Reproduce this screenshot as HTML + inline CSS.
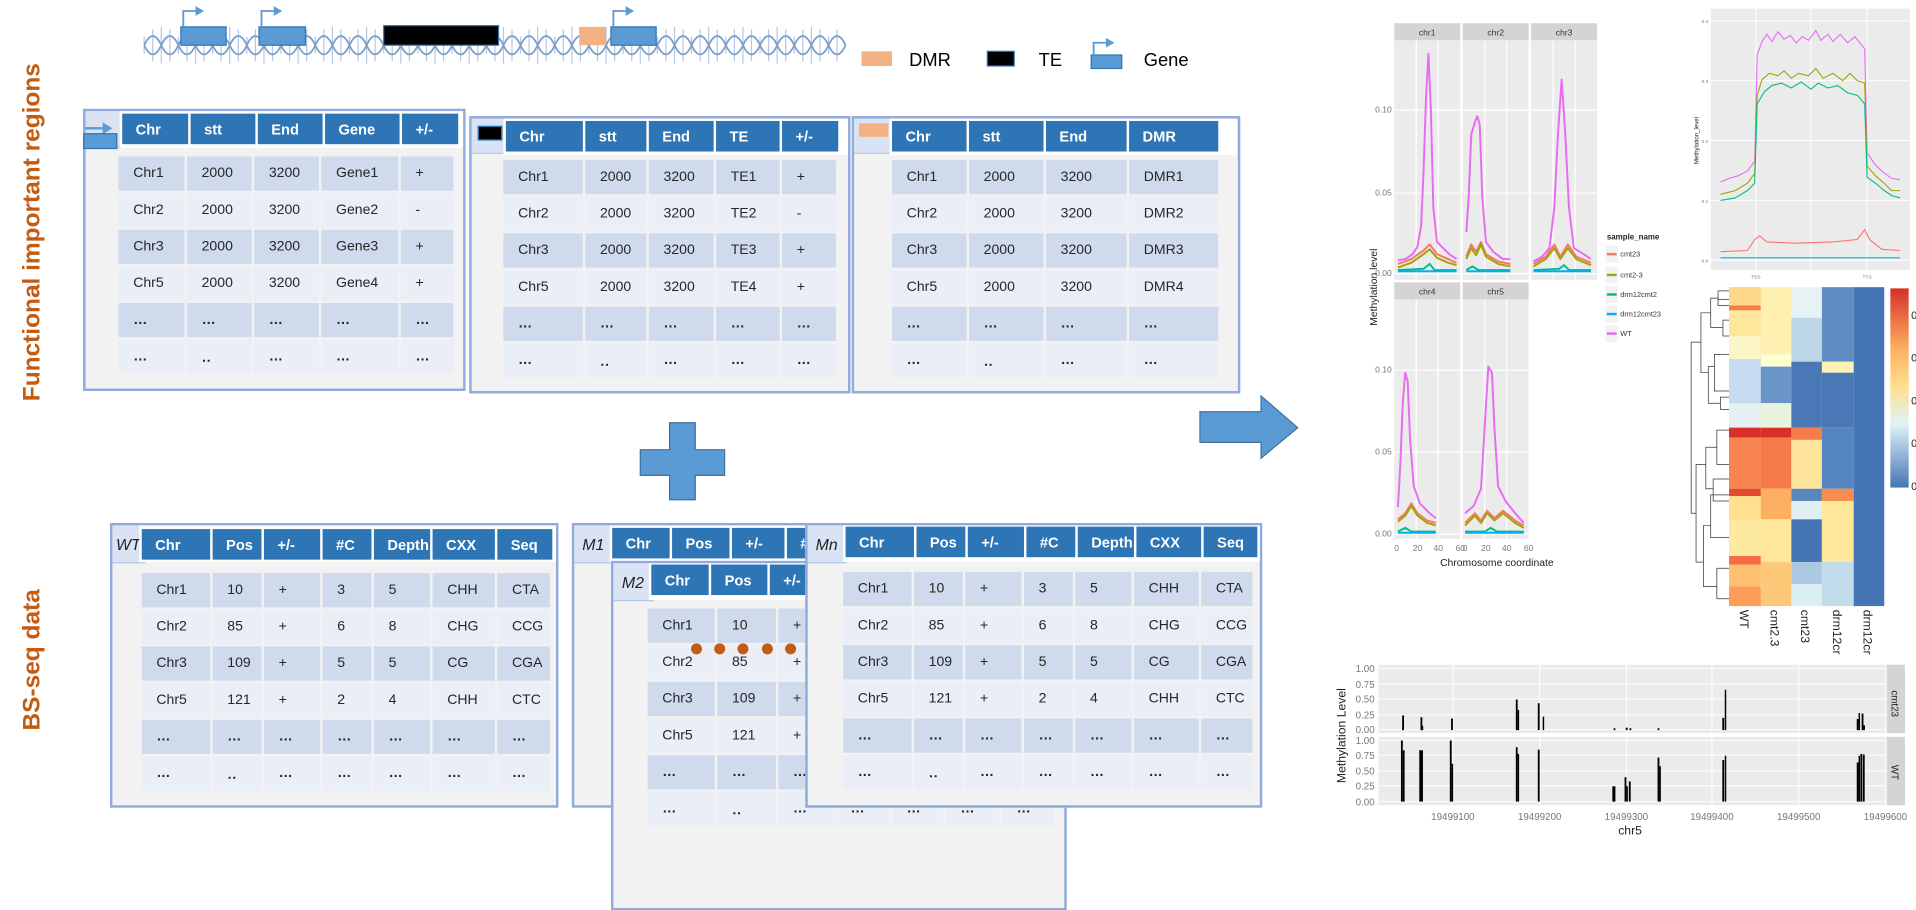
<!DOCTYPE html>
<html><head><meta charset="utf-8"><style>
html,body{margin:0;padding:0;background:#fff;width:1916px;height:843px;overflow:hidden}
.s{position:absolute;left:0;top:0;width:1568px;height:690px;transform:scale(1.22194);transform-origin:0 0;font-family:"Liberation Sans",sans-serif}
.a{position:absolute}
.box{position:absolute;border:2px solid #8faadc;background:#f2f2f2;box-sizing:border-box}
.lab{position:absolute;left:0;top:0;background:#dae3f3;border-right:1px solid #b4c7e7;border-bottom:1px solid #b4c7e7;font-style:italic;font-size:13px;color:#222;display:flex;align-items:center;justify-content:center}
table{position:absolute;border-collapse:separate;border-spacing:2px}
td{padding:0 0 0 12px;box-sizing:border-box;font-size:11.5px;color:#262626;white-space:nowrap;overflow:hidden}
table.h td{background:#2e75b6;color:#fff;font-weight:bold;font-size:12px;height:25px;padding-left:11px}
table.d td{height:28px}
table.d tr:nth-child(odd) td{background:#cfdaed}
table.d tr:nth-child(even) td{background:#e9eef7}
.hb{background:#fff}
</style></head><body><div class="s">

<div class="a" style="left:27px;top:190px;transform:translate(-50%,-50%) rotate(-90deg);color:#c55a11;font-weight:bold;font-size:20px;white-space:nowrap">Functional important regions</div>
<div class="a" style="left:27px;top:540px;transform:translate(-50%,-50%) rotate(-90deg);color:#c55a11;font-weight:bold;font-size:20px;white-space:nowrap">BS-seq data</div>

<svg class="a" style="left:0;top:0" width="1568" height="690">
<g stroke="#b4c7e7" stroke-width="1">
<path d="M118,30V44M125,24V50M132,22V52M139,24V50M146,30V44M153,24V50M160,22V52M167,24V50M174,30V44M181,24V50M188,22V52M195,24V50M202,30V44M209,24V50M216,22V52M223,24V50M230,30V44M237,24V50M244,22V52M251,24V50M258,30V44M265,24V50M272,22V52M279,24V50M286,30V44M293,24V50M300,22V52M307,24V50M314,30V44M321,24V50M328,22V52M335,24V50M342,30V44M349,24V50M356,22V52M363,24V50M370,30V44M377,24V50M384,22V52M391,24V50M398,30V44M405,24V50M412,22V52M419,24V50M426,30V44M433,24V50M440,22V52M447,24V50M454,30V44M461,24V50M468,22V52M475,24V50M482,30V44M489,24V50M496,22V52M503,24V50M510,30V44M517,24V50M524,22V52M531,24V50M538,30V44M545,24V50M552,22V52M559,24V50M566,30V44M573,24V50M580,22V52M587,24V50M594,30V44M601,24V50M608,22V52M615,24V50M622,30V44M629,24V50M636,22V52M643,24V50M650,30V44M657,24V50M664,22V52M671,24V50M678,30V44M685,24V50"/>
</g>
<g fill="none" stroke="#7f9fc8" stroke-width="1.5">
<path d="M118,37 Q125,22 132,37 T146,37 T160,37 T174,37 T188,37 T202,37 T216,37 T230,37 T244,37 T258,37 T272,37 T286,37 T300,37 T314,37 T328,37 T342,37 T356,37 T370,37 T384,37 T398,37 T412,37 T426,37 T440,37 T454,37 T468,37 T482,37 T496,37 T510,37 T524,37 T538,37 T552,37 T566,37 T580,37 T594,37 T608,37 T622,37 T636,37 T650,37 T664,37 T678,37 T692,37"/>
<path d="M118,37 Q125,52 132,37 T146,37 T160,37 T174,37 T188,37 T202,37 T216,37 T230,37 T244,37 T258,37 T272,37 T286,37 T300,37 T314,37 T328,37 T342,37 T356,37 T370,37 T384,37 T398,37 T412,37 T426,37 T440,37 T454,37 T468,37 T482,37 T496,37 T510,37 T524,37 T538,37 T552,37 T566,37 T580,37 T594,37 T608,37 T622,37 T636,37 T650,37 T664,37 T678,37 T692,37"/>
</g>
<g fill="#5b9bd5" stroke="#2e75b6" stroke-width="1">
<rect x="148" y="22" width="37" height="15"/><rect x="212" y="22" width="38" height="15"/><rect x="500" y="22" width="37" height="15"/>
</g>
<rect x="314" y="21" width="94" height="16" fill="#000" stroke="#2e75b6"/>
<rect x="474" y="22" width="22" height="15" fill="#f4b183"/>
<g stroke="#5b9bd5" stroke-width="1.5" fill="none"><path d="M150,22V9H160M214,22V9H224M502,22V9H512"/></g>
<g fill="#5b9bd5"><path d="M160,5L167,9L160,13Z"/><path d="M224,5L231,9L224,13Z"/><path d="M512,5L519,9L512,13Z"/></g>
<rect x="705" y="42" width="25" height="12" fill="#f4b183"/>
<text x="744" y="54" font-size="15" font-family="Liberation Sans">DMR</text>
<rect x="808" y="42" width="22" height="12" fill="#000" stroke="#2e75b6"/>
<text x="850" y="54" font-size="15" font-family="Liberation Sans">TE</text>
<rect x="893" y="45" width="25" height="11" fill="#5b9bd5" stroke="#2e75b6"/>
<path d="M895,45V35H905" stroke="#5b9bd5" stroke-width="1.5" fill="none"/><path d="M905,31L912,35L905,39Z" fill="#5b9bd5"/>
<text x="936" y="54" font-size="15" font-family="Liberation Sans">Gene</text>
<path d="M548,346H569V368H593V389H569V409H548V389H524V368H548Z" fill="#5b9bd5" stroke="#41719c" stroke-width="1"/>
<path d="M982,337H1032V324L1062,350L1032,375V362H982Z" fill="#5b9bd5" stroke="#41719c" stroke-width="1"/>
</svg>

<div class="box" style="left:68px;top:89px;width:313px;height:231px">
 <div class="lab" style="width:29px;height:29px"></div>
</div>
<div class="a" style="left:70px;top:104px;width:14px;height:2px;background:#5b9bd5"></div>
<div class="a" style="left:84px;top:100px;width:0;height:0;border-left:8px solid #5b9bd5;border-top:5px solid transparent;border-bottom:5px solid transparent"></div>
<div class="a" style="left:68px;top:109px;width:26px;height:11px;background:#5b9bd5;border:1px solid #2e75b6"></div>
<div class="a hb" style="left:98px;top:91px;width:281px;height:30px"></div>
<table class="h" style="left:98px;top:91px"><tr><td style="width:54px">Chr</td><td style="width:53px">stt</td><td style="width:53px">End</td><td style="width:61px">Gene</td><td style="width:46px">+/-</td></tr></table>
<table class="d" style="left:95px;top:126px">
<tr><td style="width:54px">Chr1</td><td style="width:53px">2000</td><td style="width:53px">3200</td><td style="width:63px">Gene1</td><td style="width:43px">+</td></tr>
<tr><td>Chr2</td><td>2000</td><td>3200</td><td>Gene2</td><td>-</td></tr>
<tr><td>Chr3</td><td>2000</td><td>3200</td><td>Gene3</td><td>+</td></tr>
<tr><td>Chr5</td><td>2000</td><td>3200</td><td>Gene4</td><td>+</td></tr>
<tr><td><b>…</b></td><td><b>…</b></td><td><b>…</b></td><td><b>…</b></td><td><b>…</b></td></tr>
<tr><td><b>…</b></td><td><b>‥</b></td><td><b>…</b></td><td><b>…</b></td><td><b>…</b></td></tr>
</table>

<div class="box" style="left:384px;top:95px;width:312px;height:227px">
 <div class="lab" style="width:28px;height:28px"></div>
</div>
<div class="a" style="left:391px;top:103px;width:18px;height:10px;background:#000;border:1px solid #2e75b6"></div>
<div class="a hb" style="left:412px;top:97px;width:282px;height:30px"></div>
<table class="h" style="left:412px;top:97px"><tr><td style="width:63px">Chr</td><td style="width:50px">stt</td><td style="width:53px">End</td><td style="width:52px">TE</td><td style="width:46px">+/-</td></tr></table>
<table class="d" style="left:410px;top:129px">
<tr><td style="width:65px">Chr1</td><td style="width:50px">2000</td><td style="width:53px">3200</td><td style="width:52px">TE1</td><td style="width:44px">+</td></tr>
<tr><td>Chr2</td><td>2000</td><td>3200</td><td>TE2</td><td>-</td></tr>
<tr><td>Chr3</td><td>2000</td><td>3200</td><td>TE3</td><td>+</td></tr>
<tr><td>Chr5</td><td>2000</td><td>3200</td><td>TE4</td><td>+</td></tr>
<tr><td><b>…</b></td><td><b>…</b></td><td><b>…</b></td><td><b>…</b></td><td><b>…</b></td></tr>
<tr><td><b>…</b></td><td><b>‥</b></td><td><b>…</b></td><td><b>…</b></td><td><b>…</b></td></tr>
</table>

<div class="box" style="left:697px;top:95px;width:318px;height:227px">
 <div class="lab" style="width:30px;height:28px"></div>
</div>
<div class="a" style="left:703px;top:101px;width:24px;height:11px;background:#f4b183"></div>
<div class="a hb" style="left:728px;top:97px;width:284px;height:30px"></div>
<table class="h" style="left:728px;top:97px"><tr><td style="width:61px">Chr</td><td style="width:61px">stt</td><td style="width:66px">End</td><td style="width:73px">DMR</td></tr></table>
<table class="d" style="left:728px;top:129px">
<tr><td style="width:61px">Chr1</td><td style="width:61px">2000</td><td style="width:66px">3200</td><td style="width:73px">DMR1</td></tr>
<tr><td>Chr2</td><td>2000</td><td>3200</td><td>DMR2</td></tr>
<tr><td>Chr3</td><td>2000</td><td>3200</td><td>DMR3</td></tr>
<tr><td>Chr5</td><td>2000</td><td>3200</td><td>DMR4</td></tr>
<tr><td><b>…</b></td><td><b>…</b></td><td><b>…</b></td><td><b>…</b></td></tr>
<tr><td><b>…</b></td><td><b>‥</b></td><td><b>…</b></td><td><b>…</b></td></tr>
</table>

<div class="box" style="left:90px;top:428px;width:367px;height:233px">
 <div class="lab" style="width:26px;height:30px">WT</div>
</div>
<div class="a hb" style="left:114px;top:430px;width:341px;height:30px"></div>
<table class="h" style="left:114px;top:431px"><tr><td style="width:56px">Chr</td><td style="width:40px">Pos</td><td style="width:46px">+/-</td><td style="width:40px">#C</td><td style="width:46px">Depth</td><td style="width:51px">CXX</td><td style="width:45px">Seq</td></tr></table>
<table class="d" style="left:114px;top:467px">
<tr><td style="width:56px">Chr1</td><td style="width:40px">10</td><td style="width:46px">+</td><td style="width:40px">3</td><td style="width:46px">5</td><td style="width:51px">CHH</td><td style="width:43px">CTA</td></tr>
<tr><td>Chr2</td><td>85</td><td>+</td><td>6</td><td>8</td><td>CHG</td><td>CCG</td></tr>
<tr><td>Chr3</td><td>109</td><td>+</td><td>5</td><td>5</td><td>CG</td><td>CGA</td></tr>
<tr><td>Chr5</td><td>121</td><td>+</td><td>2</td><td>4</td><td>CHH</td><td>CTC</td></tr>
<tr><td><b>…</b></td><td><b>…</b></td><td><b>…</b></td><td><b>…</b></td><td><b>…</b></td><td><b>…</b></td><td><b>…</b></td></tr>
<tr><td><b>…</b></td><td><b>‥</b></td><td><b>…</b></td><td><b>…</b></td><td><b>…</b></td><td><b>…</b></td><td><b>…</b></td></tr>
</table>

<div class="box" style="left:468px;top:428px;width:400px;height:233px">
 <div class="lab" style="width:31px;height:30px">M1</div>
</div>
<div class="a hb" style="left:499px;top:430px;width:367px;height:30px"></div>
<table class="h" style="left:499px;top:430px"><tr><td style="width:47px">Chr</td><td style="width:47px">Pos</td><td style="width:43px">+/-</td><td style="width:40px">#C</td><td style="width:46px">Depth</td><td style="width:51px">CXX</td><td style="width:45px">Seq</td></tr></table>

<div class="box" style="left:500px;top:459px;width:373px;height:286px">
 <div class="lab" style="width:32px;height:30px">M2</div>
</div>
<div class="a hb" style="left:531px;top:461px;width:340px;height:30px"></div>
<table class="h" style="left:531px;top:460px"><tr><td style="width:47px">Chr</td><td style="width:46px">Pos</td><td style="width:46px">+/-</td><td style="width:40px">#C</td><td style="width:46px">Depth</td><td style="width:51px">CXX</td><td style="width:45px">Seq</td></tr></table>
<table class="d" style="left:528px;top:496px">
<tr><td style="width:55px">Chr1</td><td style="width:48px">10</td><td style="width:45px">+</td><td style="width:44px">3</td><td style="width:42px">5</td><td style="width:44px">CHH</td><td style="width:42px">CTA</td></tr>
<tr><td>Chr2</td><td>85</td><td>+</td><td>6</td><td>8</td><td>CHG</td><td>CCG</td></tr>
<tr><td>Chr3</td><td>109</td><td>+</td><td>5</td><td>5</td><td>CG</td><td>CGA</td></tr>
<tr><td>Chr5</td><td>121</td><td>+</td><td>2</td><td>4</td><td>CHH</td><td>CTC</td></tr>
<tr><td><b>…</b></td><td><b>…</b></td><td><b>…</b></td><td><b>…</b></td><td><b>…</b></td><td><b>…</b></td><td><b>…</b></td></tr>
<tr><td><b>…</b></td><td><b>‥</b></td><td><b>…</b></td><td><b>…</b></td><td><b>…</b></td><td><b>…</b></td><td><b>…</b></td></tr>
</table>
<svg class="a" style="left:560px;top:523px" width="120" height="16"><g fill="#c55a11"><circle cx="10" cy="8" r="4.5"/><circle cx="29" cy="8" r="4.5"/><circle cx="48" cy="8" r="4.5"/><circle cx="68" cy="8" r="4.5"/><circle cx="87" cy="8" r="4.5"/><circle cx="106" cy="8" r="4.5"/></g></svg>

<div class="box" style="left:659px;top:428px;width:374px;height:233px">
 <div class="lab" style="width:31px;height:30px">Mn</div>
</div>
<div class="a hb" style="left:690px;top:430px;width:341px;height:30px"></div>
<table class="h" style="left:690px;top:429px"><tr><td style="width:56px">Chr</td><td style="width:40px">Pos</td><td style="width:46px">+/-</td><td style="width:40px">#C</td><td style="width:46px">Depth</td><td style="width:53px">CXX</td><td style="width:44px">Seq</td></tr></table>
<table class="d" style="left:688px;top:466px">
<tr><td style="width:56px">Chr1</td><td style="width:40px">10</td><td style="width:46px">+</td><td style="width:40px">3</td><td style="width:46px">5</td><td style="width:53px">CHH</td><td style="width:42px">CTA</td></tr>
<tr><td>Chr2</td><td>85</td><td>+</td><td>6</td><td>8</td><td>CHG</td><td>CCG</td></tr>
<tr><td>Chr3</td><td>109</td><td>+</td><td>5</td><td>5</td><td>CG</td><td>CGA</td></tr>
<tr><td>Chr5</td><td>121</td><td>+</td><td>2</td><td>4</td><td>CHH</td><td>CTC</td></tr>
<tr><td><b>…</b></td><td><b>…</b></td><td><b>…</b></td><td><b>…</b></td><td><b>…</b></td><td><b>…</b></td><td><b>…</b></td></tr>
<tr><td><b>…</b></td><td><b>‥</b></td><td><b>…</b></td><td><b>…</b></td><td><b>…</b></td><td><b>…</b></td><td><b>…</b></td></tr>
</table>

<svg class="a" style="left:0;top:0" width="1568" height="690" font-family="Liberation Sans">
<g fill="#ebebeb"><rect x="1141" y="33" width="54" height="196"/><rect x="1197" y="33" width="54" height="196"/><rect x="1253" y="33" width="54" height="196"/><rect x="1141" y="245" width="54" height="196"/><rect x="1197" y="245" width="54" height="196"/></g>
<g fill="#d4d4d4"><rect x="1141" y="19" width="54" height="14"/><rect x="1197" y="19" width="54" height="14"/><rect x="1253" y="19" width="54" height="14"/><rect x="1141" y="231" width="54" height="14"/><rect x="1197" y="231" width="54" height="14"/></g>
<g font-size="7" fill="#333" text-anchor="middle"><text x="1168" y="29">chr1</text><text x="1224" y="29">chr2</text><text x="1280" y="29">chr3</text><text x="1168" y="241">chr4</text><text x="1224" y="241">chr5</text></g>
<g stroke="#fff" stroke-width="1"><path d="M1141,90H1195M1197,90H1251M1253,90H1307M1141,158H1195M1197,158H1251M1253,158H1307M1141,224H1195M1197,224H1251M1253,224H1307M1141,303H1195M1197,303H1251M1141,370H1195M1197,370H1251M1141,437H1195M1197,437H1251M1159,33V229M1177,33V229M1215,33V229M1233,33V229M1271,33V229M1289,33V229M1159,245V441M1177,245V441M1215,245V441M1233,245V441"/></g>
<g font-size="7" fill="#777" text-anchor="end"><text x="1139" y="92">0.10</text><text x="1139" y="160">0.05</text><text x="1139" y="226">0.00</text><text x="1139" y="305">0.10</text><text x="1139" y="372">0.05</text><text x="1139" y="439">0.00</text></g>
<g font-size="7" fill="#777" text-anchor="middle"><text x="1143" y="451">0</text><text x="1160" y="451">20</text><text x="1177" y="451">40</text><text x="1195" y="451">60</text><text x="1199" y="451">0</text><text x="1216" y="451">20</text><text x="1233" y="451">40</text><text x="1251" y="451">60</text></g>
<text x="1225" y="463" font-size="8.5" text-anchor="middle" fill="#222">Chromosome coordinate</text>
<text transform="translate(1127,235) rotate(-90)" font-size="8.5" text-anchor="middle" fill="#222">Methylation level</text>
<g fill="none" stroke-width="1.6" stroke-linejoin="round">
<g stroke="#f8766d"><path d="M1144,216L1155,212L1165,205L1170,200L1176,208L1185,212L1192,215"/><path d="M1200,210L1204,200L1208,206L1212,198L1216,208L1226,214L1236,216"/><path d="M1255,216L1265,210L1272,200L1277,210L1283,200L1290,210L1302,215"/><path d="M1144,425L1150,420L1155,412L1160,420L1168,426L1175,428"/><path d="M1199,428L1207,420L1212,426L1217,418L1223,424L1230,418L1240,426L1247,430"/></g>
<g stroke="#a3a500"><path d="M1144,219L1155,215L1165,208L1170,204L1176,211L1185,215L1192,217"/><path d="M1200,212L1204,203L1208,209L1212,200L1216,210L1226,216L1236,218"/><path d="M1255,218L1265,212L1272,203L1277,212L1283,203L1290,212L1302,217"/><path d="M1144,427L1150,422L1155,414L1160,422L1168,428L1175,430"/><path d="M1199,430L1207,422L1212,428L1217,420L1223,426L1230,420L1240,428L1247,432"/></g>
<g stroke="#00bf7d"><path d="M1144,221L1165,220L1170,216L1174,221L1192,221M1200,221L1205,218L1210,221L1236,221M1255,221L1276,220L1280,217L1284,221L1302,221M1144,435L1150,432L1155,435L1175,435M1199,435L1215,435L1220,432L1225,435L1247,435"/></g>
<g stroke="#00b0f6"><path d="M1144,222H1192M1200,222H1236M1255,222H1302M1144,436H1175M1199,436H1247"/></g>
<g stroke="#e76bf3"><path d="M1144,213L1150,212L1156,208L1160,202L1163,185L1165,140L1167,80L1169,44L1171,90L1173,170L1176,198L1180,202L1186,208L1192,212"/><path d="M1200,190L1202,160L1204,110L1207,100L1209,95L1211,102L1213,160L1216,198L1222,206L1230,212L1236,212"/><path d="M1255,214L1262,210L1268,203L1272,170L1275,110L1278,65L1281,110L1284,170L1288,203L1296,208L1302,212"/><path d="M1144,415L1146,380L1148,330L1150,305L1152,312L1154,360L1157,398L1162,412L1170,420L1175,424"/><path d="M1199,420L1206,414L1212,400L1215,350L1218,300L1221,305L1223,350L1226,398L1232,410L1240,420L1247,428"/></g>
</g>
<text x="1315" y="196" font-size="6.5" font-weight="bold" fill="#222">sample_name</text>
<g fill="#f2f2f2"><rect x="1314" y="201" width="10" height="14"/><rect x="1314" y="218" width="10" height="14"/><rect x="1314" y="234" width="10" height="14"/><rect x="1314" y="250" width="10" height="14"/><rect x="1314" y="266" width="10" height="14"/></g>
<g stroke-width="2"><path d="M1315,208H1323" stroke="#f8766d"/><path d="M1315,225H1323" stroke="#a3a500"/><path d="M1315,241H1323" stroke="#00bf7d"/><path d="M1315,257H1323" stroke="#00b0f6"/><path d="M1315,273H1323" stroke="#e76bf3"/></g>
<g font-size="6" fill="#333"><text x="1326" y="210">cmt23</text><text x="1326" y="227">cmt2-3</text><text x="1326" y="243">drm12cmt2</text><text x="1326" y="259">drm12cmt23</text><text x="1326" y="275">WT</text></g>

<rect x="1400" y="7" width="163" height="214" fill="#ebebeb"/>
<g stroke="#fff" stroke-width="0.8"><path d="M1400,17H1563M1400,66H1563M1400,115H1563M1400,164H1563M1400,213H1563M1437,7V221M1482,7V221M1528,7V221"/></g>
<g font-size="4" fill="#777" text-anchor="end"><text x="1398" y="19">0.4</text><text x="1398" y="68">0.3</text><text x="1398" y="117">0.2</text><text x="1398" y="166">0.1</text><text x="1398" y="215">0.0</text></g>
<g font-size="4" fill="#777" text-anchor="middle"><text x="1437" y="228">TSS</text><text x="1528" y="228">TTS</text></g>
<text transform="translate(1390,115) rotate(-90)" font-size="5" text-anchor="middle" fill="#222">Methylation_level</text>
<g fill="none" stroke-width="0.9">
<path stroke="#e76bf3" d="M1408,149L1415,146L1422,144L1430,140L1436,132L1438,45L1442,34L1446,28L1450,34L1455,26L1460,32L1465,29L1470,35L1475,30L1480,33L1486,25L1490,33L1496,28L1500,34L1506,28L1512,35L1518,30L1526,40L1528,125L1534,134L1540,140L1548,146L1555,147"/>
<path stroke="#a3a500" d="M1408,159L1420,156L1430,150L1436,142L1438,78L1442,65L1448,60L1455,62L1460,58L1466,64L1472,60L1480,62L1486,56L1492,64L1500,60L1508,66L1514,60L1520,66L1526,68L1528,136L1535,144L1542,150L1548,156L1555,156"/>
<path stroke="#00bf7d" d="M1408,164L1420,162L1430,156L1436,150L1438,85L1444,75L1450,70L1458,68L1466,72L1474,67L1482,73L1488,68L1496,72L1504,70L1512,76L1520,78L1526,85L1528,145L1535,150L1542,156L1548,160L1555,162"/>
<path stroke="#f8766d" d="M1408,206L1430,205L1436,196L1440,193L1446,198L1470,199L1500,198L1520,196L1526,188L1530,196L1540,204L1555,205"/>
<path stroke="#00b0f6" d="M1408,211H1555"/>
</g>

<g stroke="#333" stroke-width="0.6" fill="none">
<path d="M1415,238H1406V250H1415M1415,245H1406M1406,244H1400V268H1410M1415,262H1410V275H1415M1400,256H1392V305H1398M1415,290H1403V320H1415M1398,300H1403M1398,300V330H1408M1415,335H1408V325H1415M1392,280H1384V420H1388M1415,352H1405V380H1415M1405,366H1396V400H1402M1415,392H1402V410H1415M1388,380H1396M1388,380V460H1394M1415,405H1400V440H1415M1394,430H1400M1394,430V480H1405M1405,465H1415M1405,490H1415M1405,465V490"/>
</g>
<g>
<rect x="1415" y="235" width="26" height="261" fill="#fdbf71"/>
<rect x="1415" y="235" width="26" height="15" fill="#fed98b"/><rect x="1415" y="250" width="26" height="4" fill="#f67e4b"/><rect x="1415" y="254" width="26" height="21" fill="#fee79b"/><rect x="1415" y="275" width="26" height="19" fill="#fbf5c7"/><rect x="1415" y="294" width="26" height="36" fill="#c6dbef"/><rect x="1415" y="330" width="26" height="20" fill="#e6f1f3"/><rect x="1415" y="350" width="26" height="8" fill="#d73027"/><rect x="1415" y="358" width="26" height="42" fill="#f88450"/><rect x="1415" y="400" width="26" height="6" fill="#e34a33"/><rect x="1415" y="406" width="26" height="19" fill="#fee090"/><rect x="1415" y="425" width="26" height="30" fill="#fdeaa0"/><rect x="1415" y="455" width="26" height="7" fill="#f46d43"/><rect x="1415" y="480" width="26" height="16" fill="#fc9d5a"/>
<rect x="1441" y="235" width="25" height="55" fill="#fef0b0"/><rect x="1441" y="290" width="25" height="10" fill="#ffffd0"/><rect x="1441" y="300" width="25" height="30" fill="#6a96c8"/><rect x="1441" y="330" width="25" height="20" fill="#e8f4e0"/><rect x="1441" y="350" width="25" height="8" fill="#d73027"/><rect x="1441" y="358" width="25" height="42" fill="#f57a4a"/><rect x="1441" y="400" width="25" height="25" fill="#fdae61"/><rect x="1441" y="425" width="25" height="35" fill="#fee79b"/><rect x="1441" y="460" width="25" height="36" fill="#fdc978"/>
<rect x="1466" y="235" width="25" height="25" fill="#e6f2f3"/><rect x="1466" y="260" width="25" height="36" fill="#bcd6e8"/><rect x="1466" y="296" width="25" height="54" fill="#4a78b6"/><rect x="1466" y="350" width="25" height="10" fill="#f67d4a"/><rect x="1466" y="360" width="25" height="40" fill="#fee39a"/><rect x="1466" y="400" width="25" height="10" fill="#5b87bf"/><rect x="1466" y="410" width="25" height="15" fill="#e0f0f2"/><rect x="1466" y="425" width="25" height="35" fill="#4575b4"/><rect x="1466" y="460" width="25" height="18" fill="#abc9e1"/><rect x="1466" y="478" width="25" height="18" fill="#dbeef3"/>
<rect x="1491" y="235" width="26" height="61" fill="#5f8cc2"/><rect x="1491" y="296" width="26" height="9" fill="#fff0b3"/><rect x="1491" y="305" width="26" height="45" fill="#4a78b6"/><rect x="1491" y="350" width="26" height="50" fill="#5585be"/><rect x="1491" y="400" width="26" height="10" fill="#f88d52"/><rect x="1491" y="410" width="26" height="50" fill="#fee79b"/><rect x="1491" y="460" width="26" height="36" fill="#c3dceb"/>
<rect x="1517" y="235" width="25" height="261" fill="#4575b4"/>
</g>
<defs><linearGradient id="cb" x1="0" y1="0" x2="0" y2="1"><stop offset="0" stop-color="#d73027"/><stop offset="0.3" stop-color="#fdae61"/><stop offset="0.5" stop-color="#fee090"/><stop offset="0.68" stop-color="#e0f3f8"/><stop offset="1" stop-color="#4575b4"/></linearGradient></defs>
<rect x="1547" y="236" width="15" height="163" fill="url(#cb)"/>
<g font-size="9" fill="#222"><text x="1564" y="261">0.8</text><text x="1564" y="296">0.6</text><text x="1564" y="331">0.4</text><text x="1564" y="366">0.2</text><text x="1564" y="401">0</text></g>
<g font-size="10" fill="#222"><text transform="translate(1424,499) rotate(90)">WT</text><text transform="translate(1449,499) rotate(90)">cmt2.3</text><text transform="translate(1474,499) rotate(90)">cmt23</text><text transform="translate(1500,499) rotate(90)">drm12cr</text><text transform="translate(1525,499) rotate(90)">drm12cr</text></g>

<rect x="1128" y="544" width="415" height="56" fill="#ebebeb"/><rect x="1128" y="603" width="415" height="56" fill="#ebebeb"/>
<rect x="1544" y="544" width="15" height="56" fill="#d4d4d4"/><rect x="1544" y="603" width="15" height="56" fill="#d4d4d4"/>
<g stroke="#fff" stroke-width="0.8"><path d="M1128,547H1543M1128,560H1543M1128,572H1543M1128,585H1543M1128,597H1543M1128,606H1543M1128,618H1543M1128,631H1543M1128,643H1543M1128,656H1543M1189,544V600M1260,544V600M1331,544V600M1401,544V600M1472,544V600M1189,603V659M1260,603V659M1331,603V659M1401,603V659M1472,603V659"/></g>
<g font-size="8" fill="#777" text-anchor="end"><text x="1125" y="550">1.00</text><text x="1125" y="563">0.75</text><text x="1125" y="575">0.50</text><text x="1125" y="588">0.25</text><text x="1125" y="600">0.00</text><text x="1125" y="609">1.00</text><text x="1125" y="621">0.75</text><text x="1125" y="634">0.50</text><text x="1125" y="646">0.25</text><text x="1125" y="659">0.00</text></g>
<g font-size="8" fill="#777" text-anchor="middle"><text x="1189" y="671">19499100</text><text x="1260" y="671">19499200</text><text x="1331" y="671">19499300</text><text x="1401" y="671">19499400</text><text x="1472" y="671">19499500</text><text x="1543" y="671">19499600</text></g>
<text x="1334" y="683" font-size="10" text-anchor="middle" fill="#222">chr5</text>
<text transform="translate(1101,602) rotate(-90)" font-size="10" text-anchor="middle" fill="#222">Methylation Level</text>
<g font-size="8" fill="#222"><text transform="translate(1548,565) rotate(90)">cmt23</text><text transform="translate(1548,626) rotate(90)">WT</text></g>
<g fill="#000">
<rect x="1147.5" y="585.5" width="1.5" height="12"/><rect x="1162.5" y="587" width="1.5" height="10.5"/><rect x="1163.5" y="594" width="1.2" height="3.5"/><rect x="1187.5" y="588" width="1.5" height="9.5"/><rect x="1240.5" y="572.5" width="1.5" height="25"/><rect x="1242" y="581" width="1.2" height="16.5"/><rect x="1258.5" y="575.5" width="1.5" height="22"/><rect x="1262.5" y="586.5" width="1.2" height="11"/><rect x="1320.5" y="596" width="1.5" height="1.5"/><rect x="1330.5" y="595.5" width="1.5" height="2"/><rect x="1333.5" y="596" width="1.5" height="1.5"/><rect x="1356.5" y="596" width="1.5" height="1.5"/><rect x="1409.5" y="587.5" width="1.5" height="10"/><rect x="1411.5" y="564.5" width="1.2" height="33"/><rect x="1519.5" y="588.5" width="1.5" height="9"/><rect x="1521" y="583.5" width="1.2" height="14"/><rect x="1523.5" y="584" width="1.5" height="13.5"/><rect x="1525" y="593.5" width="1.2" height="4"/>
<rect x="1146.5" y="606" width="1.5" height="50"/><rect x="1148" y="614" width="1.5" height="42"/><rect x="1161.5" y="614" width="3" height="42"/><rect x="1186.5" y="606" width="1.5" height="50"/><rect x="1188" y="625" width="1.2" height="31"/><rect x="1240.5" y="611.5" width="1.5" height="44.5"/><rect x="1242" y="617" width="1.2" height="39"/><rect x="1258.5" y="613.5" width="1.5" height="42.5"/><rect x="1319.5" y="643.5" width="2.5" height="12.5"/><rect x="1329.5" y="636" width="1.5" height="20"/><rect x="1331" y="643.5" width="1.2" height="12.5"/><rect x="1333" y="639.5" width="1.5" height="16.5"/><rect x="1356.5" y="620" width="1.5" height="36"/><rect x="1358" y="627" width="1.2" height="29"/><rect x="1409.5" y="622" width="1.5" height="34"/><rect x="1411.5" y="618.5" width="1.2" height="37.5"/><rect x="1519.5" y="624" width="1.5" height="32"/><rect x="1521" y="618.5" width="1.2" height="37.5"/><rect x="1522.5" y="617" width="1.5" height="39"/><rect x="1524.5" y="617.5" width="1.5" height="38.5"/>
</g>
</svg>
</div></body></html>
